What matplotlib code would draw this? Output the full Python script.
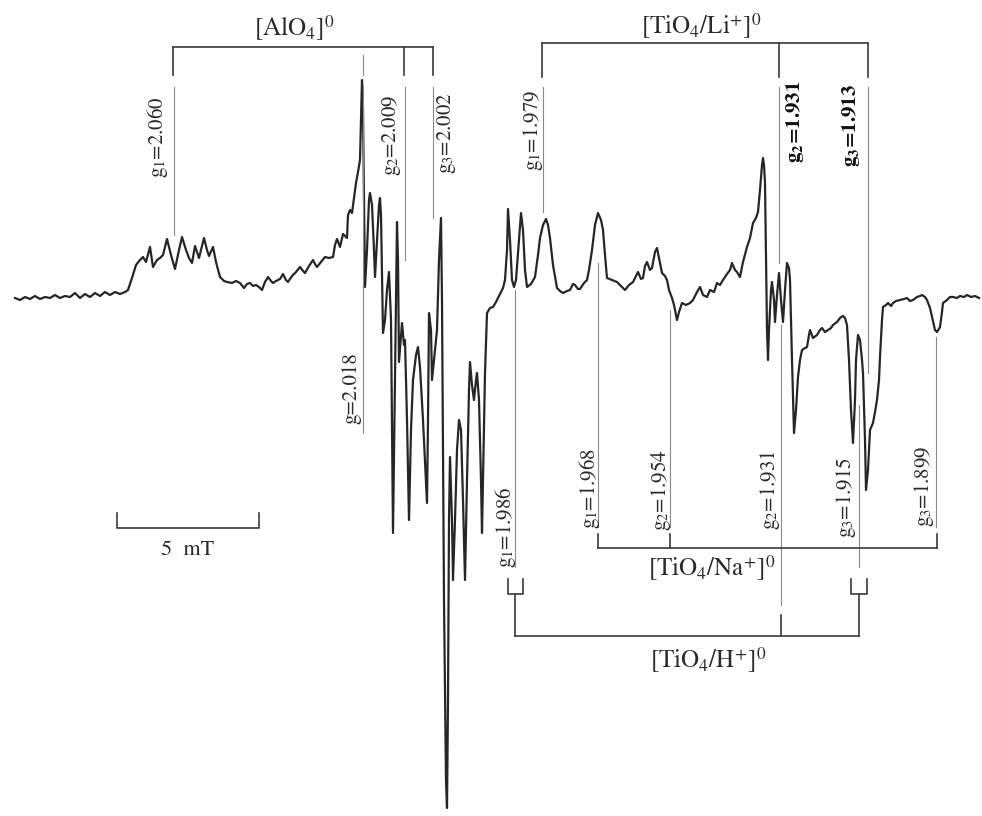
import numpy as np
import matplotlib.pyplot as plt

plt.rcParams['font.family'] = 'STIXGeneral'
plt.rcParams['mathtext.fontset'] = 'stix'

# EPR-Spektrum, Feld in willkuerlichen Einheiten (141 Einheiten = 5 mT)
field = [15, 20, 25, 30, 35, 40, 45, 50, 55, 60, 65, 70, 75, 80, 85, 90, 95, 100, 105, 110,
         115, 120, 125, 128, 132, 136, 140, 143, 146, 150, 153, 157, 160, 163, 167, 171, 175, 179, 182, 186,
         189, 192, 195, 199, 204, 207, 209, 213, 216, 220, 224, 227, 232, 236, 240, 244, 247, 250, 253, 256,
         259, 262, 265, 268, 271, 273, 276, 280, 283, 286, 288, 292, 296, 300, 303, 305, 309, 313, 315, 317,
         321, 325, 329, 333, 335, 337, 340, 343, 345, 347, 348, 350, 352, 354, 356, 358, 360, 361, 362, 363,
         364, 365, 367, 369, 370, 372, 374, 375, 377, 379, 380, 381, 383, 385, 387, 389, 391, 393, 395, 397,
         398, 399, 402, 404, 405, 407, 409, 411, 413, 416, 418, 420, 423, 427, 428, 429, 431, 432, 435, 437,
         439, 441, 442, 444, 446, 447, 448, 449, 450, 452, 453, 455, 457, 459, 461, 463, 465, 467, 469, 470,
         472, 474, 476, 477, 479, 481, 482, 483, 485, 487, 490, 493, 496, 500, 503, 505, 507, 508, 510, 512,
         514, 516, 519, 521, 523, 525, 527, 531, 535, 538, 540, 543, 546, 548, 550, 553, 557, 560, 563, 567,
         570, 573, 575, 578, 580, 584, 587, 589, 592, 595, 598, 601, 603, 605, 607, 612, 617, 621, 625, 629,
         633, 636, 638, 641, 643, 645, 647, 650, 652, 655, 657, 659, 662, 665, 667, 669, 672, 674, 677, 679,
         682, 686, 690, 693, 697, 700, 703, 707, 710, 714, 717, 720, 723, 727, 730, 732, 735, 737, 740, 743,
         747, 750, 753, 756, 758, 760, 762, 763, 764, 765, 766, 767, 768, 769, 771, 772, 774, 775, 777, 779,
         781, 783, 785, 787, 789, 790, 792, 794, 796, 798, 800, 802, 805, 807, 809, 810, 813, 817, 820, 822,
         825, 828, 831, 833, 837, 840, 843, 845, 847, 849, 851, 853, 855, 856, 858, 860, 862, 863, 865, 866,
         868, 870, 873, 875, 877, 879, 880, 882, 883, 886, 888, 891, 893, 896, 900, 904, 907, 910, 913, 917,
         920, 922, 925, 927, 930, 932, 935, 937, 940, 942, 943, 947, 950, 953, 957, 960, 964, 967, 971, 975,
         979]
signal = [0, -2, 1, -1, 2, -1, 1, 0, 3, 0, 2, 1, 5, 0, 4, 1, 5, 2, 6, 3,
          6, 4, 6, 8, 20, 33, 38, 41, 36, 51, 31, 38, 40, 43, 59, 43, 29, 48, 61, 48,
          40, 35, 52, 40, 60, 48, 42, 51, 36, 21, 17, 16, 15, 17, 15, 10, 14, 15, 12, 13,
          11, 8, 16, 21, 17, 15, 17, 19, 24, 18, 16, 22, 26, 31, 27, 25, 32, 38, 34, 31,
          36, 41, 40, 41, 53, 59, 51, 64, 62, 60, 83, 88, 85, 100, 115, 126, 138, 178, 218, 188,
          98, 11, 48, 98, 105, 93, 48, 21, 58, 93, 100, 83, -35, -22, 8, 26, -22, -235, -82, 76,
          38, -64, -25, -47, -42, -122, -222, -132, -82, -57, -49, -69, -122, -205, -122, -15, -32, -82, -52, -32,
          38, 80, -2, -302, -482, -510, -402, -222, -159, -222, -282, -222, -152, -122, -132, -202, -282, -182, -92, -64,
          -87, -102, -82, -75, -102, -182, -235, -182, -75, -15, -10, -9, -4, 4, 10, 18, 48, 89, 58, 18,
          11, 18, 58, 85, 68, 28, 11, 14, 21, 43, 60, 73, 79, 73, 60, 33, 10, 7, 5, 7,
          8, 14, 13, 9, 9, 15, 18, 28, 48, 73, 85, 78, 68, 43, 20, 18, 16, 12, 8, 13,
          16, 22, 26, 19, 20, 32, 36, 28, 30, 46, 50, 40, 25, 22, 18, 8, 0, -7, -22, -14,
          -5, -7, -5, -2, 6, 11, 3, 1, 8, 6, 15, 13, 18, 24, 28, 35, 28, 26, 21, 36,
          51, 60, 75, 80, 86, 108, 133, 140, 133, 115, 38, -32, -62, -32, 8, 16, -2, -24, 3, 25,
          -2, -24, 8, 35, 30, 18, -62, -135, -112, -79, -62, -52, -50, -49, -37, -32, -40, -37, -32, -30,
          -34, -32, -30, -27, -24, -20, -18, -20, -27, -62, -112, -145, -102, -62, -37, -42, -62, -75, -142, -192,
          -172, -132, -125, -114, -102, -82, -59, -22, -9, -7, -5, -8, -5, -3, -2, -1, 0, -3, -2, 1,
          2, 3, 1, -2, -10, -19, -32, -34, -29, -14, -5, -2, 1, 1, 0, 2, 1, 3, 1, 2,
          0]

# g-Werte oben (ueber dem Spektrum)
g_top_labels = ['g$_1$=2.060', 'g$_2$=2.009', 'g$_3$=2.002',
                'g$_1$=1.979', r'$\mathbf{g_2}$=1.931', r'$\mathbf{g_3}$=1.913']
g_top_field = [174, 405, 433, 543, 779, 868]

# g-Werte unten
g_bot_labels = ['g=2.018', 'g$_1$=1.986', 'g$_1$=1.968', 'g$_2$=1.954',
                'g$_2$=1.931', 'g$_3$=1.915', 'g$_3$=1.899']
g_bot_field = [363, 515, 598, 670, 781, 859, 936]

BASE = 298  # Pixelzeile der Basislinie


def py(y):
    # Pixelzeile (von oben) -> Datenkoordinate
    return BASE - y


fig = plt.figure(figsize=(9.82, 8.16), dpi=100)
ax = fig.add_axes([0, 0, 1, 1])
ax.set_xlim(0, 982)
ax.set_ylim(BASE - 816, BASE)
ax.axis('off')

ax.plot(field, signal, color='#262626', lw=1.6, solid_joinstyle='round')

thin = dict(color='#8a8a8a', lw=0.8)
dark = dict(color='#3a3a3a', lw=1.2)
txt = dict(color='#2a2a2a', fontsize=15, rotation=90, ha='center', va='center')

# Klammer [AlO4]0
ax.plot([173, 433], [py(47), py(47)], **dark)
for xx in [173, 404, 433]:
    ax.plot([xx, xx], [py(47), py(75)], **dark)
ax.plot([363, 363], [py(55), py(75)], **thin)
ax.text(294, py(28), r'[AlO$_4$]$^0$', fontsize=18, ha='center', va='center', color='#2a2a2a')

# Klammer [TiO4/Li+]0
ax.plot([542, 868], [py(43), py(43)], **dark)
for xx in [542, 779, 868]:
    ax.plot([xx, xx], [py(43), py(77)], **dark)
ax.text(701, py(26), r'[TiO$_4$/Li$^{+}$]$^0$', fontsize=18, ha='center', va='center', color='#2a2a2a')

# obere g-Linien: (y-Ende der Linie, Textseite, Text-y)
top_layout = [(235, -16, 137), (260, -13, 135), (218, 14, 133),
              (212, -10, 130), (263, 16, 122), (373, -17, 125)]
for lab, xx, (yend, dx, ty) in zip(g_top_labels, g_top_field, top_layout):
    ax.plot([xx, xx], [py(87), py(yend)], **thin)
    t = ax.text(xx + dx, py(ty), lab, **txt)
    if 'mathbf' in lab:
        t.set_color('#111111')
        t.set_fontweight('bold')

# untere g-Linien: (y-Start, y-Ende, Textseite, Text-y)
bot_layout = [(85, 433, -12, 388), (290, 567, -9, 527), (263, 527, -8, 488),
              (310, 527, -9, 490), (325, 605, -11, 490), (405, 567, -13, 497),
              (337, 527, -12, 486)]
for lab, xx, (y0, y1, dx, ty) in zip(g_bot_labels, g_bot_field, bot_layout):
    ax.plot([xx, xx], [py(y0), py(y1)], **thin)
    ax.text(xx + dx, py(ty), lab, **txt)

# Klammer [TiO4/Na+]0
ax.plot([598, 937], [py(548), py(548)], **dark)
for xx in [598, 670, 937]:
    ax.plot([xx, xx], [py(534), py(548)], **dark)
ax.text(712, py(568), r'[TiO$_4$/Na$^{+}$]$^0$', fontsize=18, ha='center', va='center', color='#2a2a2a')

# Klammer [TiO4/H+]0
for xl, xr in [(508, 523), (851, 867)]:
    xm = (xl + xr) / 2
    ax.plot([xl, xl, xr, xr], [py(579), py(594), py(594), py(579)], **dark)
    ax.plot([xm, xm], [py(594), py(636)], **dark)
ax.plot([515.5, 859], [py(636), py(636)], **dark)
ax.plot([781, 781], [py(615), py(636)], **dark)
ax.text(708, py(660), r'[TiO$_4$/H$^{+}$]$^0$', fontsize=18, ha='center', va='center', color='#2a2a2a')

# Massstab 5 mT
ax.plot([117, 117, 259, 259], [py(513), py(528), py(528), py(513)], **dark)
ax.text(188, py(550), '5  mT', fontsize=16, ha='center', va='center', color='#2a2a2a')

fig.savefig('out.png', dpi=100)
